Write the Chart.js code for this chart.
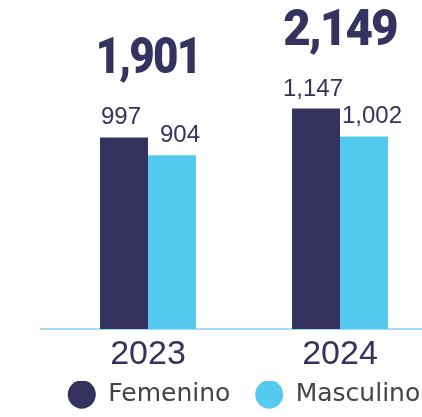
<!DOCTYPE html>
<html>
<head>
<meta charset="utf-8">
<script src="https://cdn.jsdelivr.net/npm/chart.js@4"></script>
<style>
html,body{margin:0;padding:0;background:#fff;overflow:hidden}
canvas{display:block}
</style>
</head>
<body>
<canvas id="grafico" width="436" height="417"></canvas>
<script>
let anios = ["2023","2024"];
let series = ["Femenino","Masculino"];
let femenino = [997,1147];
let masculino = [904,1002];
let colores = ["#35325f","#55caef"];
let azulOscuro = "#35325f";

function formato(n){
return n.toLocaleString("en-US");
}

// etiquetas de valores, totales y linea base
const etiquetas = {
id:"etiquetas",
beforeDatasetsDraw(chart){
let ctx = chart.ctx;
let y0 = chart.scales.y.getPixelForValue(0);
ctx.save();
ctx.strokeStyle = "#7dd3f1";
ctx.lineWidth = 1.5;
ctx.beginPath();
ctx.moveTo(chart.chartArea.left-12, y0);
ctx.lineTo(chart.width, y0);
ctx.stroke();
ctx.restore();
},
afterDatasetsDraw(chart){
let ctx = chart.ctx;
let x = chart.scales.x;
let y = chart.scales.y;
ctx.save();
ctx.fillStyle = azulOscuro;
ctx.textAlign = "center";
ctx.textBaseline = "alphabetic";
ctx.font = "24px 'Liberation Sans'";
chart.data.datasets.forEach((ds,i)=>{
chart.getDatasetMeta(i).data.forEach((bar,j)=>{
let dx = i==0 ? -3 : 8;
ctx.fillText(formato(ds.data[j]), bar.x+dx, bar.y-13);
});
});
ctx.font = "900 50px Roboto";
ctx.letterSpacing = "-2px";
anios.forEach((a,j)=>{
let total = femenino[j]+masculino[j];
let tope = y.getPixelForValue(Math.max(femenino[j],masculino[j]));
ctx.save();
ctx.translate(x.getPixelForValue(j), tope-64);
ctx.scale(j==0 ? 0.88 : 0.95,1);
ctx.fillText(formato(total), 0, 0);
ctx.restore();
});
ctx.restore();
}
};

let chart = new Chart(document.getElementById("grafico"),{
type:"bar",
data:{
labels:anios,
datasets:[
{label:series[0],data:femenino,backgroundColor:colores[0],barPercentage:1,categoryPercentage:0.5},
{label:series[1],data:masculino,backgroundColor:colores[1],barPercentage:1,categoryPercentage:0.5}
]
},
options:{
responsive:false,
animation:false,
layout:{padding:{left:52,right:0,top:0,bottom:0}},
scales:{
x:{
grid:{display:false,drawTicks:false},
border:{display:false},
ticks:{color:azulOscuro,font:{family:"'Liberation Sans'",size:34,lineHeight:1},padding:9}
},
y:{display:false,min:0,max:1712}
},
plugins:{
tooltip:{enabled:false},
legend:{
position:"bottom",
labels:{
usePointStyle:true,
pointStyle:"circle",
boxHeight:20,
pointStyleWidth:28,
padding:1,
color:"#444",
font:{family:"'DejaVu Sans'",size:25},
generateLabels(chart){
let items = Chart.defaults.plugins.legend.labels.generateLabels(chart);
items[0].text = items[0].text + "   ";
return items;
}
}
}
}
},
plugins:[etiquetas]
});
</script>
</body>
</html>
